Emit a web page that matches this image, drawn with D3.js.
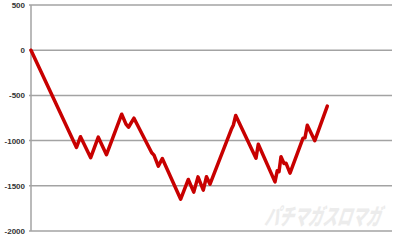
<!DOCTYPE html>
<html>
<head>
<meta charset="utf-8">
<script src="https://cdn.jsdelivr.net/npm/d3@7"></script>
<style>
html,body{margin:0;padding:0;background:#fff;}
svg{display:block;}
</style>
</head>
<body>
<svg id="chart" width="400" height="240"></svg>
<script>
const games = [0,1008,1097,1323,1491,1673,2010,2105,2161,2282,2675,2726,2821,2910,3317,3486,3607,3701,3818,3889,3967,4448,4483,4537,4986,5037,5407,5458,5496,5540,5607,5651,5740,6028,6072,6123,6289,6566];
const values = [0,-1076,-957,-1189,-962,-1156,-708,-818,-852,-752,-1134,-1161,-1283,-1198,-1648,-1430,-1570,-1401,-1548,-1399,-1482,-866,-830,-722,-1194,-1040,-1457,-1333,-1344,-1178,-1253,-1250,-1360,-973,-968,-830,-1001,-619];
const yTicks = [500,0,-500,-1000,-1500,-2000];
const watermark = "パチマガスロマガ";

const svg = d3.select("#chart");
const x = d3.scaleLinear().domain([0,8000]).range([31,392]);
const y = d3.scaleLinear().domain([-2000,500]).range([231,5]);

// watermark
svg.append("text").text(watermark)
  .attr("transform","translate(264,225) skewX(-18)")
  .attr("font-family","Noto Sans CJK JP")
  .attr("font-weight","900").attr("font-size",23)
  .attr("textLength",116).attr("lengthAdjust","spacingAndGlyphs")
  .attr("fill","#ececec");

// gridlines
svg.append("g").selectAll("line").data(yTicks).join("line")
  .attr("x1",29).attr("x2",392)
  .attr("y1",d=>y(d)).attr("y2",d=>y(d))
  .attr("stroke","#a3a3a3").attr("stroke-width",1.5);

// left axis line
svg.append("line").attr("x1",31).attr("x2",31).attr("y1",y(500)).attr("y2",y(-2000))
  .attr("stroke","#a3a3a3").attr("stroke-width",1.5);

// y labels
const yAxis = d3.axisLeft(y).tickValues(yTicks).tickSize(0).tickPadding(6).tickFormat(d=>String(d));
const ga = svg.append("g").attr("transform","translate(31,0)").call(yAxis);
ga.select(".domain").remove();
ga.selectAll("text").attr("font-family","Liberation Sans, Arial, sans-serif")
  .attr("font-size",8).attr("font-weight","bold").attr("fill","#333");

// line
const data = games.map((g,i)=>({g, v: values[i]}));
svg.append("path").datum(data)
  .attr("fill","none").attr("stroke","#c80000").attr("stroke-width",3.5)
  .attr("stroke-linejoin","round").attr("stroke-linecap","round")
  .attr("d", d3.line().x(d=>x(d.g)).y(d=>y(d.v)));
</script>
</body>
</html>
